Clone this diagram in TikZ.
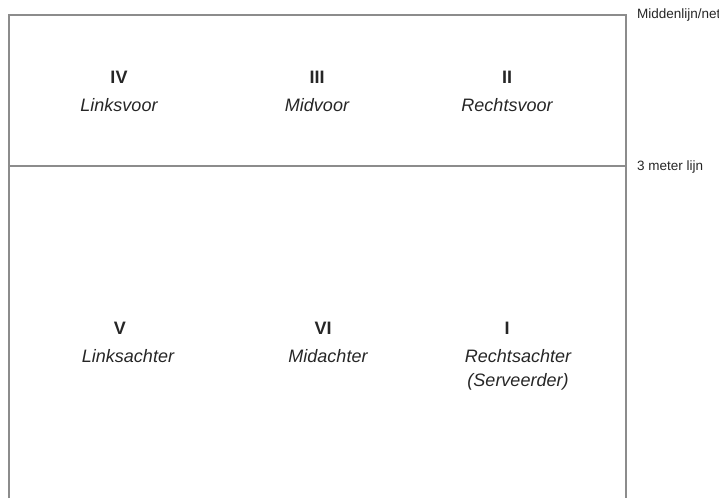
\documentclass[tikz,border=0pt]{standalone}
\usepackage{fontspec}
\setmainfont{Liberation Sans}
\usetikzlibrary{positioning}

\begin{document}
\begin{tikzpicture}[x=1pt,y=-1pt,node distance=28pt,on grid,
    veld/.style={draw=black!45,line width=1.2pt},
    zone/.style={font=\fontsize{18}{22}\selectfont\bfseries,text=black!85,inner sep=0pt},
    rol/.style={font=\fontsize{18}{22}\selectfont\itshape,text=black!85,inner sep=0pt},
    lijn/.style={font=\fontsize{13.5}{16}\selectfont,text=black!85,anchor=west,inner sep=0pt}]
  \useasboundingbox (0,0) rectangle (719,498);
  % veld
  \coordinate (lo) at (9,498);
  \coordinate (lb) at (9,15);
  \coordinate (rb) at (626,15);
  \coordinate (ro) at (626,498);
  \coordinate (lm) at (9,166);
  \coordinate (rm) at (626,166);
  \draw[veld] (lo) -- (lb) -- (rb) -- (ro);
  \draw[veld] (lm) -- (rm);
  \node[lijn] (net) at (637,15) {Middenlijn/net};
  \node[lijn] (drie) at (637,167) {3 meter lijn};
  % voorste rij
  \node[zone] (iv) at (119,77) {IV};
  \node[rol,below=28pt of iv] (lv) {Linksvoor};
  \node[zone] (iii) at (317,77) {III};
  \node[rol,below=28pt of iii] (mv) {Midvoor};
  \node[zone] (ii) at (507,77) {II};
  \node[rol,below=28pt of ii] (rv) {Rechtsvoor};
  % achterste rij
  \node[zone] (v) at (120,328) {V};
  \node[rol,below=28pt of v,xshift=8pt] (la) {Linksachter};
  \node[zone] (vi) at (323,328) {VI};
  \node[rol,below=28pt of vi,xshift=5pt] (ma) {Midachter};
  \node[zone] (i) at (507,328) {I};
  \node[rol,below=28pt of i,xshift=11pt] (ra) {Rechtsachter};
  \node[rol,below=26pt of ra] (srv) {(Serveerder)};
\end{tikzpicture}
\end{document}
